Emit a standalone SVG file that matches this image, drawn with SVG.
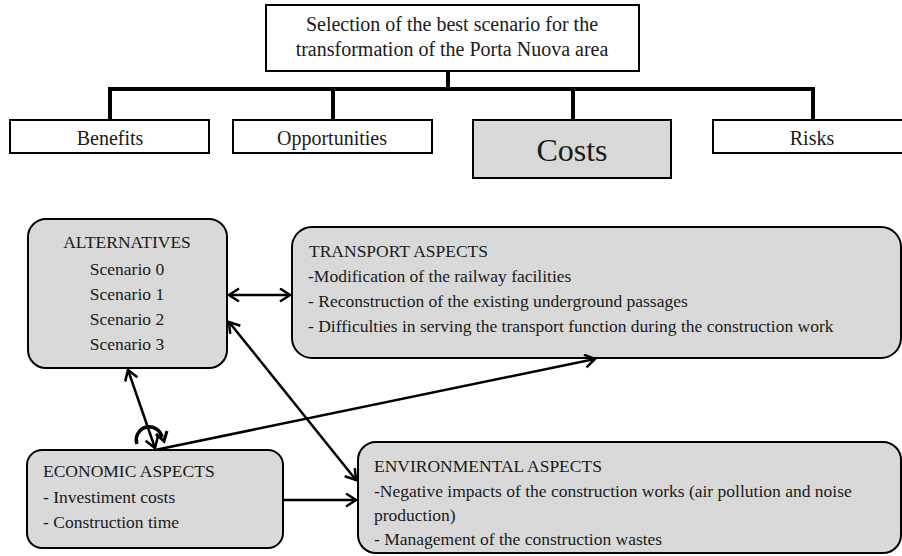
<svg xmlns="http://www.w3.org/2000/svg" width="902" height="556" viewBox="0 0 902 556">
<style>
text{font-family:"Liberation Serif","Times New Roman",serif;fill:#1a1a1a}
.box{fill:#fff;stroke:#000;stroke-width:2}
.grey{fill:#d9d9d9;stroke:#000;stroke-width:2}
.bus{stroke:#000;stroke-width:4;fill:none}
.arr{stroke:#000;stroke-width:2.5;fill:none}
.t17{font-size:17.5px}
.t20{font-size:20px}
.mid{text-anchor:middle}
</style>
<defs>
<marker id="ah" markerUnits="userSpaceOnUse" markerWidth="14" markerHeight="16" refX="11" refY="7" orient="auto-start-reverse" viewBox="0 0 14 16">
<path d="M1,0.5 L11,7 L1,13.5" fill="none" stroke="#000" stroke-width="2.5"/>
</marker>
</defs>
<g id="goal">
<rect class="box" x="266" y="5" width="373" height="66"/>
<text class="t20 mid" x="452" y="31">Selection of the best scenario for the</text>
<text class="t20 mid" x="452" y="56">transformation of the Porta Nuova area</text>
</g>
<g id="tree">
<path class="bus" d="M448,71 V89 M110,89 H813 M110,87 V120 M333,87 V120 M573,87 V120 M813,87 V120"/>
</g>
<g id="benefits">
<rect class="box" x="10" y="120" width="199" height="33"/>
<text class="t20 mid" x="110" y="145">Benefits</text>
</g>
<g id="opportunities">
<rect class="box" x="233" y="120" width="199" height="33"/>
<text class="t20 mid" x="332" y="145">Opportunities</text>
</g>
<g id="costs">
<rect class="grey" x="473" y="120" width="198" height="58"/>
<text class="mid" style="font-size:32px" x="572" y="161">Costs</text>
</g>
<g id="risks">
<rect class="box" x="713" y="120" width="200" height="33"/>
<text class="t20 mid" x="812" y="145">Risks</text>
</g>
<g id="alternatives">
<rect class="grey" x="28" y="219" width="199" height="149" rx="18"/>
<text class="t17 mid" x="127" y="248">ALTERNATIVES</text>
<text class="t17 mid" x="127" y="275">Scenario 0</text>
<text class="t17 mid" x="127" y="300">Scenario 1</text>
<text class="t17 mid" x="127" y="325">Scenario 2</text>
<text class="t17 mid" x="127" y="350">Scenario 3</text>
</g>
<g id="transport">
<rect class="grey" x="292" y="227" width="609" height="131" rx="20"/>
<text class="t17" x="309" y="257">TRANSPORT ASPECTS</text>
<text class="t17" x="308" y="282">-Modification of the railway facilities</text>
<text class="t17" x="308" y="307">- Reconstruction of the existing underground passages</text>
<text class="t17" x="308" y="332">- Difficulties in serving  the transport function during the construction work</text>
</g>
<g id="economic">
<rect class="grey" x="27" y="450" width="256" height="98" rx="15"/>
<text class="t17" x="43" y="477">ECONOMIC ASPECTS</text>
<text class="t17" x="43" y="503">- Investiment costs</text>
<text class="t17" x="43" y="528">- Construction time</text>
</g>
<g id="environmental">
<rect class="grey" x="358" y="442" width="543" height="111" rx="18"/>
<text class="t17" x="374" y="472">ENVIRONMENTAL ASPECTS</text>
<text class="t17" x="374" y="497">-Negative impacts of the construction works (air pollution and noise</text>
<text class="t17" x="374" y="521">production)</text>
<text class="t17" x="374" y="545">- Management of the construction wastes</text>
</g>
<g id="connectors">
<line class="arr" x1="229" y1="295" x2="290" y2="295" marker-start="url(#ah)" marker-end="url(#ah)"/>
<line class="arr" x1="229" y1="322" x2="356" y2="480" marker-start="url(#ah)" marker-end="url(#ah)"/>
<line class="arr" x1="128" y1="370" x2="155" y2="448" marker-start="url(#ah)" marker-end="url(#ah)"/>
<line class="arr" x1="155" y1="450" x2="595" y2="359" marker-end="url(#ah)"/>
<line class="arr" x1="283" y1="500" x2="356" y2="500" marker-end="url(#ah)"/>
<path d="M137,444 A13,13 0 1 1 162,437" fill="none" stroke="#000" stroke-width="3.5"/>
<path d="M156,434 L164,441 L167,431" fill="none" stroke="#000" stroke-width="3"/>
</g>
</svg>
